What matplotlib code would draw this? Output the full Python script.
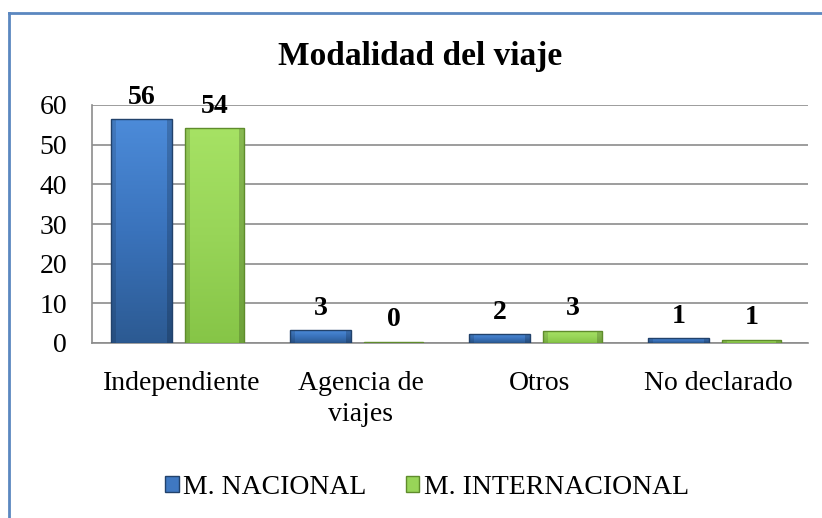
import matplotlib
matplotlib.use("Agg")
import matplotlib.pyplot as plt
from matplotlib.patches import Rectangle
from matplotlib.lines import Line2D
from matplotlib.colors import LinearSegmentedColormap
import numpy as np

categories = ["Independiente", "Agencia de\nviajes", "Otros", "No declarado"]
nacional = [56.4, 3.2, 2.2, 1.2]
internacional = [54.1, 0.3, 3.0, 0.8]
series_names = ["M. NACIONAL", "M. INTERNACIONAL"]
yticks = [0, 10, 20, 30, 40, 50, 60]

plt.rcParams['font.family'] = ['Liberation Serif', 'DejaVu Serif']

fig = plt.figure(figsize=(8.22, 5.18), dpi=100)
ax = fig.add_axes([92/822, 1-343/518, 716/822, 238/518])

x = np.arange(len(categories))
blue, blue_edge = "#3F78C2", "#22426B"
green, green_edge = "#98D558", "#5F8C2C"
blue_cmap = LinearSegmentedColormap.from_list("b", ["#2C5A92", "#3A73BC", "#4C8BD9"])
green_cmap = LinearSegmentedColormap.from_list("g", ["#86C547", "#98D558", "#A6E264"])

b1 = ax.bar(x - 0.223, nacional, width=0.34, color="none", edgecolor=blue_edge, linewidth=1.0, zorder=4)
b2 = ax.bar(x + 0.184, internacional, width=0.33, color="none", edgecolor=green_edge, linewidth=1.0, zorder=4)

grad = np.linspace(0, 1, 256).reshape(-1, 1)
for bars, cmap in ((b1, blue_cmap), (b2, green_cmap)):
    for r in bars:
        x0 = r.get_x(); w = r.get_width(); h = r.get_height()
        im = ax.imshow(grad, extent=[x0, x0 + w, 0, h], origin="lower", aspect="auto",
                       cmap=cmap, zorder=3)
        im.set_clip_path(r)
        ax.add_patch(Rectangle((x0, 0), w*0.08, h, facecolor="black", alpha=0.12,
                               edgecolor="none", zorder=3.5))
        ax.add_patch(Rectangle((x0 + w*0.92, 0), w*0.08, h, facecolor="black", alpha=0.18,
                               edgecolor="none", zorder=3.5))

for bars, vals in ((b1, nacional), (b2, internacional)):
    for r, v in zip(bars, vals):
        ax.annotate(f"{round(v):d}", (r.get_x() + r.get_width()/2, r.get_height()),
                    xytext=(0, 7), textcoords="offset points", ha="center", va="bottom",
                    fontsize=20, fontweight="bold", zorder=5)

ax.set_xlim(-0.5, 3.5)
ax.set_ylim(0, 60)
ax.set_yticks(yticks)
ax.set_yticklabels([str(t) for t in yticks], fontsize=20)
ax.set_xticks(x)
ax.set_xticklabels(categories, fontsize=20, linespacing=1.35, va="top")
ax.tick_params(axis="y", length=0, pad=18)
ax.tick_params(axis="x", length=0, pad=20)
ax.yaxis.grid(True, color="#8C8C8C", linewidth=1.2, zorder=0)
ax.set_axisbelow(True)
for s in ("top", "right"):
    ax.spines[s].set_visible(False)
for s in ("left", "bottom"):
    ax.spines[s].set_color("#8C8C8C")
    ax.spines[s].set_linewidth(1.2)

fig.text(420/822, 1-57/518, "Modalidad del viaje", ha="center", va="center",
         fontsize=24, fontweight="bold")

handles = [Rectangle((0, 0), 1, 1, facecolor=blue, edgecolor=blue_edge),
           Rectangle((0, 0), 1, 1, facecolor=green, edgecolor=green_edge)]
fig.legend(handles, series_names, loc="center", bbox_to_anchor=(427/822, 1-487/518),
           ncol=2, frameon=False, fontsize=20, handlelength=0.5, handleheight=0.5,
           handletextpad=0.15, columnspacing=1.4)

fig.add_artist(Line2D([9/822, 9/822], [0, 1-13/518], transform=fig.transFigure,
                      color="#5B87C0", linewidth=2))
fig.add_artist(Line2D([9/822, 1], [1-13/518, 1-13/518], transform=fig.transFigure,
                      color="#5B87C0", linewidth=2))

fig.savefig("out.png", dpi=100)
